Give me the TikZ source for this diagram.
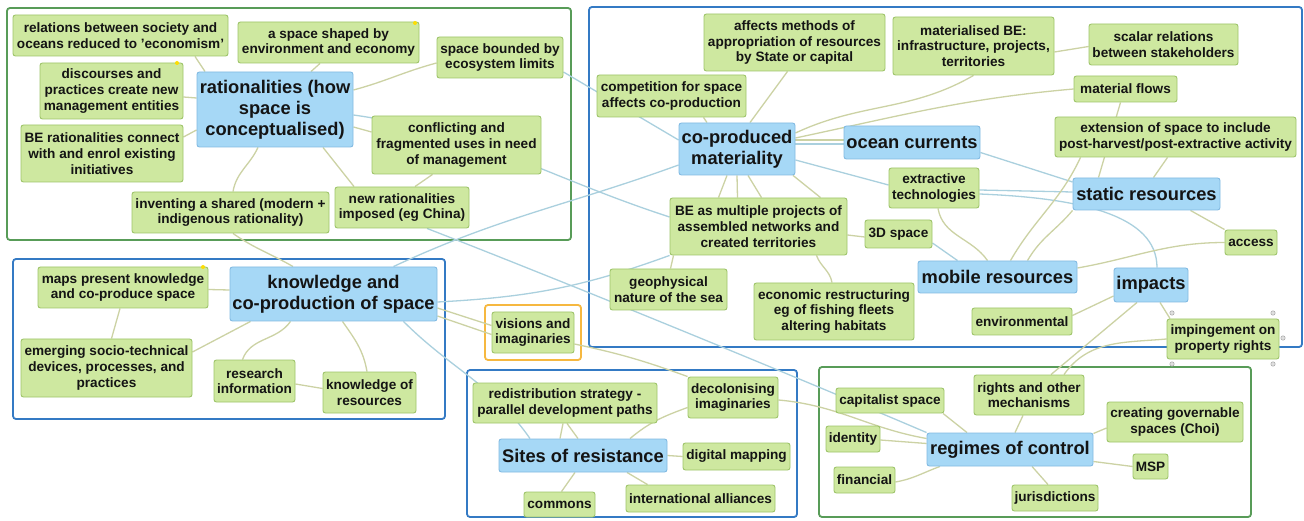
\documentclass[tikz,border=0pt]{standalone}
\usepackage{fontspec}
\setmainfont{Liberation Sans}
\usetikzlibrary{backgrounds}

\definecolor{subfill}{RGB}{206,232,160}
\definecolor{subedge}{RGB}{158,196,106}
\definecolor{topfill}{RGB}{166,216,246}
\definecolor{topedge}{RGB}{130,186,226}
\definecolor{grnframe}{RGB}{88,156,88}
\definecolor{bluframe}{RGB}{52,122,196}
\definecolor{orgframe}{RGB}{246,184,64}
\definecolor{khaki}{RGB}{204,210,164}
\definecolor{skyline}{RGB}{170,208,222}
\definecolor{ink}{RGB}{20,20,20}

\newcommand\subfont{\fontsize{13.6}{15.7}\selectfont\bfseries}
\newcommand\topfont{\fontsize{18.3}{20.8}\selectfont\bfseries}

\begin{document}
\begin{tikzpicture}[x=1pt,y=-1pt,
  sub/.style={draw=subedge, fill=subfill, line width=0.9pt, rounded corners=2.5pt,
    align=center, inner sep=1pt, font=\subfont, text=ink},
  topic/.style={draw=topedge, fill=topfill, line width=0.9pt, rounded corners=2.5pt,
    align=center, inner sep=1pt, font=\topfont, text=ink},
  bx/.style 2 args={minimum width=#1pt, minimum height=#2pt},
  kl/.style={draw=khaki, line width=1.3pt},
  bl/.style={draw=skyline, line width=1.3pt},
  frame/.style={rounded corners=3pt, line width=1.8pt},
  handle/.style={draw=gray!70, fill=gray!25, line width=0.5pt},
  pin/.style={fill=yellow!80!orange, draw=none}
]
\useasboundingbox (0,0) rectangle (1304,521);

% ---------- rationalities ----------
\node[sub, bx={215}{41}] (relations) at (120.5,35.5) {relations between society and\\oceans reduced to 'economism'};
\node[sub, bx={181}{41}] (spaceshaped) at (328.5,42.5) {a space shaped by\\environment and economy};
\node[sub, bx={143}{56}] (discourses) at (111.5,91) {discourses and\\practices create new\\management entities};
\node[topic, bx={156}{75}] (rational) at (275,109.5) {rationalities (how\\space is\\conceptualised)};
\node[sub, bx={162}{57}] (berational) at (102,153.5) {BE rationalities connect\\with and enrol existing\\initiatives};
\node[sub, bx={126}{41}] (bounded) at (500,57.5) {space bounded by\\ecosystem limits};
\node[sub, bx={169}{58}] (conflicting) at (456.5,145) {conflicting and\\fragmented uses in need\\of management};
\node[sub, bx={197}{41}] (inventing) at (230.5,212.5) {inventing a shared (modern +\\indigenous rationality)};
\node[sub, bx={134}{41}] (newrat) at (402,207.5) {new rationalities\\imposed (eg China)};

% ---------- co-produced materiality ----------
\node[sub, bx={181}{57}] (affects) at (794.5,42.5) {affects methods of\\appropriation of resources\\by State or capital};
\node[sub, bx={161}{58}] (materialised) at (973.5,46) {materialised BE:\\infrastructure, projects,\\territories};
\node[sub, bx={149}{41}] (scalar) at (1163.5,44.5) {scalar relations\\between stakeholders};
\node[sub, bx={149}{42}] (competition) at (671.5,96) {competition for space\\affects co-production};
\node[sub, bx={103}{26}] (flows) at (1125.5,89) {material flows};
\node[topic, bx={116}{52}] (coproduced) at (737,149) {co-produced\\materiality};
\node[topic, bx={136}{33}] (ocean) at (912,142.5) {ocean currents};
\node[sub, bx={241}{40}] (extension) at (1175.5,137) {extension of space to include\\post-harvest/post-extractive activity};
\node[sub, bx={90}{40}] (extractive) at (934,188) {extractive\\technologies};
\node[topic, bx={147}{32}] (static) at (1146.5,194) {static resources};
\node[sub, bx={177}{57}] (bemultiple) at (758.5,226.5) {BE as multiple projects of\\assembled networks and\\created territories};
\node[sub, bx={67}{28}] (space3d) at (898.5,234) {3D space};
\node[sub, bx={52}{25}] (access) at (1251,242.5) {access};
\node[topic, bx={159}{32}] (mobile) at (997.5,277) {mobile resources};
\node[topic, bx={74}{34}] (impacts) at (1151,285) {impacts};
\node[sub, bx={117}{41}] (geophys) at (668.5,289.5) {geophysical\\nature of the sea};
\node[sub, bx={160}{57}] (economic) at (834,311.5) {economic restructuring\\eg of fishing fleets\\altering habitats};
\node[sub, bx={100}{27}] (environmental) at (1022,321.5) {environmental};
\node[sub, bx={112}{40}] (impingement) at (1223,339) {impingement on\\property rights};

% ---------- knowledge ----------
\node[sub, bx={170}{41}] (maps) at (123,287.5) {maps present knowledge\\and co-produce space};
\node[topic, bx={207}{54}] (knowledge) at (333.5,294) {knowledge and\\co-production of space};
\node[sub, bx={171}{58}] (emerging) at (106.5,368) {emerging socio-technical\\devices, processes, and\\practices};
\node[sub, bx={81}{42}] (research) at (254.5,381) {research\\information};
\node[sub, bx={93}{41}] (kres) at (369.5,392.5) {knowledge of\\resources};

\node[sub, bx={82}{41}] (visions) at (533,332.5) {visions and\\imaginaries};

% ---------- sites of resistance ----------
\node[sub, bx={184}{40}] (redistribution) at (565,403) {redistribution strategy -\\parallel development paths};
\node[sub, bx={90}{41}] (decolonising) at (733,397.5) {decolonising\\imaginaries};
\node[topic, bx={168}{33}] (sites) at (583,455.5) {Sites of resistance};
\node[sub, bx={107}{27}] (digital) at (736.5,456.5) {digital mapping};
\node[sub, bx={71}{25}] (commons) at (559.5,504.5) {commons};
\node[sub, bx={149}{27}] (alliances) at (700.5,498.5) {international alliances};

% ---------- regimes of control ----------
\node[sub, bx={108}{25}] (capitalist) at (890,400.5) {capitalist space};
\node[sub, bx={110}{40}] (rights) at (1029,395) {rights and other\\mechanisms};
\node[sub, bx={136}{40}] (choi) at (1175,422) {creating governable\\spaces (Choi)};
\node[sub, bx={54}{26}] (identity) at (853,439) {identity};
\node[topic, bx={166}{33}] (regimes) at (1010,449.5) {regimes of control};
\node[sub, bx={35}{25}] (msp) at (1150.5,466.5) {MSP};
\node[sub, bx={61}{26}] (financial) at (864.5,480) {financial};
\node[sub, bx={86}{26}] (jurisdictions) at (1055,498) {jurisdictions};

% selection handles and marker dots
\foreach \p in {(1172,313),(1273,313),(1283,338),(1172,364),(1273,364)}
  \draw[handle] \p circle (2.2);
\foreach \p in {(415,23),(177,63),(203,267)}
  \fill[pin] \p circle (2);

\begin{scope}[on background layer]
  \fill[white] (0,0) rectangle (1304,521);
  % group frames
  \draw[frame, draw=grnframe] (7,8) rectangle (571,240);
  \draw[frame, draw=bluframe] (589,7) rectangle (1302,347);
  \draw[frame, draw=bluframe] (13,259) rectangle (445,419);
  \draw[frame, draw=orgframe] (485,305) rectangle (581,360);
  \draw[frame, draw=bluframe] (467,370) rectangle (797,517);
  \draw[frame, draw=grnframe] (819,367) rectangle (1251,517);

  % rationalities branches
  \draw[kl] ([xshift=74.5pt]relations.south) -- ([xshift=-70pt]rational.north);
  \draw[kl] ([xshift=-8.5pt]spaceshaped.south) -- ([xshift=36pt]rational.north);
  \draw[kl] ([yshift=-6pt]discourses.east) -- ([yshift=11.5pt]rational.west);
  \draw[kl] ([yshift=16.5pt]berational.east) -- ([yshift=-20.5pt]rational.west);
  \draw[kl] ([yshift=19.5pt]rational.east) to[out=15,in=195] ([yshift=-5.5pt]bounded.west);
  \draw[kl] ([yshift=-17.5pt]rational.east) -- ([yshift=13pt]conflicting.west);
  \draw[kl] ([xshift=48pt]rational.south) -- ([xshift=-48pt]newrat.north);
  \draw[kl] ([xshift=-24pt]conflicting.south) -- ([xshift=13pt]newrat.north);
  \draw[kl] ([xshift=-17pt]rational.south) to[out=-115,in=80] ([xshift=2.5pt]inventing.north);
  \draw[kl] ([xshift=2.5pt]inventing.south) to[out=-35,in=150] ([xshift=-40.5pt]knowledge.north);

  % relationship lines
  \draw[bl] ([yshift=-5.5pt]rational.east) to[out=-8,in=162] ([yshift=9.5pt]bemultiple.west);
  \draw[bl] ([xshift=25pt]newrat.south) .. controls (560,280) and (780,370) .. (regimes.north west);
  \draw[bl] ([yshift=-14.5pt]bounded.east) -- ([yshift=9pt]coproduced.west);
  \draw[bl] ([xshift=60pt]knowledge.north) to[out=25,in=200] ([yshift=-16pt]coproduced.west);
  \draw[bl] ([yshift=-8pt]knowledge.east) to[out=3,in=200] (bemultiple.south west);
  \draw[bl] ([xshift=70pt]knowledge.south) to[out=-45,in=125] ([xshift=-53pt]sites.north);

  % knowledge branches
  \draw[kl] ([yshift=-14pt]knowledge.east) -- ([yshift=7pt]visions.west);
  \draw[kl] ([yshift=-22pt]knowledge.east) -- ([yshift=-2pt]visions.west);
  \draw[kl] ([yshift=-11.5pt]visions.east) to[out=-12,in=160] (decolonising.north west);
  \draw[kl] ([yshift=-2.5pt]decolonising.east) to[out=-5,in=170] ([yshift=11pt]regimes.west);
  \draw[kl] ([yshift=-2pt]maps.east) -- ([yshift=4pt]knowledge.west);
  \draw[kl] ([xshift=-3pt]maps.south) -- ([xshift=5pt]emerging.north);
  \draw[kl] ([xshift=-83pt]knowledge.south) -- ([yshift=16pt]emerging.east);
  \draw[kl] ([xshift=-43pt]knowledge.south) to[out=-125,in=70] ([xshift=-12pt]research.north);
  \draw[kl] ([xshift=9pt]knowledge.south) to[out=-55,in=100] ([xshift=-2.5pt]kres.north);
  \draw[kl] ([yshift=-3pt]research.east) -- ([yshift=4pt]kres.west);

  % co-produced materiality branches
  \draw[kl] ([xshift=13pt]coproduced.north) -- ([xshift=-7pt]affects.south);
  \draw[kl] ([yshift=16pt]coproduced.east) to[out=25,in=210] (materialised.south);
  \draw[kl] ([xshift=32pt]competition.south) -- ([xshift=-30pt]coproduced.north);
  \draw[kl] ([yshift=11pt]coproduced.east) to[out=12,in=185] (flows.west);
  \draw[kl] ([yshift=9pt]coproduced.east) -- ([yshift=2.5pt]ocean.west);
  \draw[bl] ([yshift=5pt]coproduced.east) -- ([yshift=-1.5pt]ocean.west);
  \draw[bl] ([yshift=-11pt]coproduced.east) -- ([yshift=3pt]extractive.west);
  \draw[kl] ([xshift=-10pt]coproduced.south) -- ([xshift=-40pt]bemultiple.north);
  \draw[kl] (coproduced.south) -- ([xshift=-21pt]bemultiple.north);
  \draw[kl] ([xshift=11pt]coproduced.south) -- ([xshift=3pt]bemultiple.north);
  \draw[kl] ([xshift=56pt]coproduced.south) -- ([xshift=62pt]bemultiple.north);
  \draw[kl] ([yshift=-8.5pt]bemultiple.east) -- ([yshift=-3pt]space3d.west);
  \draw[kl] ([xshift=-85pt]bemultiple.south) -- ([xshift=2pt]geophys.north);
  \draw[kl] ([xshift=58pt]bemultiple.south) to[out=-70,in=100] ([xshift=-2pt]economic.north);
  \draw[bl] ([yshift=-9pt]space3d.east) -- ([xshift=-40pt]mobile.north);
  \draw[kl] ([xshift=4pt]extractive.south) to[out=-80,in=125] ([xshift=-10pt]mobile.north);
  \draw[bl] ([yshift=-2pt]extractive.east) -- ([yshift=2pt]static.west);
  \draw[bl] ([yshift=-6pt]extractive.east) .. controls (1080,198) and (1157,215) .. ([xshift=6pt]impacts.north);
  \draw[bl] ([yshift=-10pt]ocean.east) -- ([yshift=12pt]static.west);
  \draw[kl] ([xshift=13pt]mobile.north) to[out=60,in=-115] ([xshift=-95pt]extension.south);
  \draw[kl] ([xshift=-5pt]flows.south) -- ([xshift=-48pt]static.north);
  \draw[kl] ([xshift=7pt]static.north) -- ([xshift=-8pt]extension.south);
  \draw[kl] (static.south west) to[out=-130,in=60] ([xshift=30pt]mobile.north);
  \draw[kl] ([xshift=44pt]static.south) -- (access.north west);
  \draw[kl] ([yshift=9pt]mobile.east) to[out=10,in=180] (access.west);
  \draw[kl] ([yshift=-6pt]materialised.east) -- ([yshift=-2pt]scalar.west);
  \draw[kl] ([yshift=-11pt]impacts.west) -- ([yshift=6pt]environmental.east);
  \draw[kl] ([xshift=9pt]impacts.south) -- ([xshift=-53pt]impingement.north);
  \draw[kl] ([xshift=-14pt]impacts.south) -- ([xshift=22pt]rights.north);
  \draw[kl] (impingement.west) to[out=185,in=55] ([xshift=35pt]rights.north);

  % regimes of control branches
  \draw[kl] ([xshift=-6pt]rights.south) -- ([xshift=5pt]regimes.north);
  \draw[kl] ([xshift=53pt]capitalist.south) -- ([xshift=-43pt]regimes.north);
  \draw[kl] ([yshift=-1pt]identity.east) -- ([yshift=6pt]regimes.west);
  \draw[kl] ([yshift=-2pt]financial.east) to[out=10,in=-160] ([xshift=-70pt]regimes.south);
  \draw[kl] ([yshift=-12pt]regimes.east) -- (msp.west);
  \draw[kl] ([yshift=16pt]regimes.east) -- ([yshift=-6pt]choi.west);
  \draw[kl] ([xshift=22pt]regimes.south) -- ([xshift=-7pt]jurisdictions.north);

  % sites of resistance branches
  \draw[kl] ([xshift=-2pt]redistribution.south) -- ([xshift=-23pt]sites.north);
  \draw[kl] ([xshift=2pt]redistribution.south) -- ([xshift=-5pt]sites.north);
  \draw[kl] ([xshift=47pt]sites.north) to[out=40,in=-160] ([yshift=-10pt]decolonising.west);
  \draw[kl] (sites.east) -- (digital.west);
  \draw[kl] ([xshift=-8pt]sites.south) -- ([xshift=2pt]commons.north);
  \draw[kl] ([xshift=44pt]sites.south) -- ([xshift=-53pt]alliances.north);
\end{scope}
\end{tikzpicture}
\end{document}
